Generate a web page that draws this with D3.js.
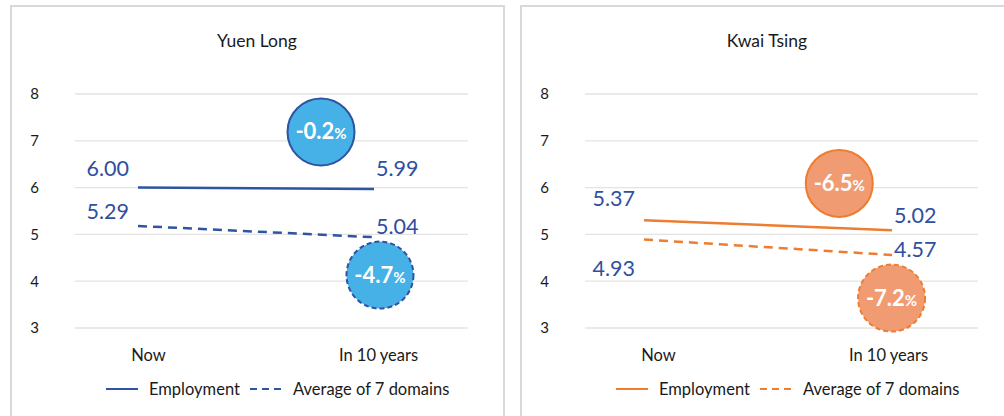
<!DOCTYPE html>
<html>
<head>
<meta charset="UTF-8">
<script src="https://d3js.org/d3.v7.min.js"></script>
<style>
    body { margin: 0; background: #fff; }
    svg { font-family: Lato, "Open Sans", sans-serif; }
</style>
</head>
<body>
<svg id="chart"></svg>
<script>
// DATA
var categories = ["Now", "In 10 years"];
var panelNames = ["Yuen Long", "Kwai Tsing"];
var yTicks = [3, 4, 5, 6, 7, 8];

// plotted values (as drawn) and the printed labels
var ylEmployment = [6.00, 5.97];
var ylAverage    = [5.18, 4.94];
var ylEmpLabels  = ["6.00", "5.99"];
var ylAvgLabels  = ["5.29", "5.04"];
var ylChanges    = ["-0.2", "-4.7"];

var ktEmployment = [5.30, 5.09];
var ktAverage    = [4.89, 4.56];
var ktEmpLabels  = ["5.37", "5.02"];
var ktAvgLabels  = ["4.93", "4.57"];
var ktChanges    = ["-6.5", "-7.2"];

var seriesNames = ["Employment", "Average of 7 domains"];

var panels = [
    { name: panelNames[0], emp: ylEmployment, avg: ylAverage, empLab: ylEmpLabels, avgLab: ylAvgLabels, change: ylChanges,
      line: "#2E54A2", fill: "#45B1E6", badgeStroke: "#2E54A2",
      empDy: [-19, -21], avgDy: [-14, -11],
      badges: [{x: 0.626, v: 7.19}, {x: 0.776, v: 4.13}] },
    { name: panelNames[1], emp: ktEmployment, avg: ktAverage, empLab: ktEmpLabels, avgLab: ktAvgLabels, change: ktChanges,
      line: "#ED7D31", fill: "#F19B72", badgeStroke: "#ED7D31",
      empDy: [-22, -15], avgDy: [29, -5],
      badges: [{x: 0.647, v: 6.09}, {x: 0.78, v: 3.64}] }
];

var width = 1004, height = 416;
var labelColor = "#2F4F9F";

var svg = d3.select("#chart")
    .attr("width", width)
    .attr("height", height);

var panelX = [11, 521];
var plotLeft = 64, plotRight = 457;

var y = d3.scaleLinear().domain([3, 8]).range([328, 94]);

panels.forEach(function(p, i) {
    var g = svg.append("g").attr("transform", `translate(${panelX[i]},0)`);

    g.append("rect")
        .attr("x", 0).attr("y", 6)
        .attr("width", i == 0 ? 493 : 500)
        .attr("height", 430)
        .attr("fill", "none")
        .attr("stroke", "#d9d9d9")
        .attr("stroke-width", 2);

    g.append("text")
        .attr("x", 246).attr("y", 47)
        .attr("text-anchor", "middle")
        .attr("font-size", 17.5)
        .attr("fill", "#1a1a1a")
        .text(p.name);

    // lines sit inside plot, category labels slightly offset
    var xLine = d3.scalePoint().domain(categories).range([plotLeft + (i == 0 ? 63 : 59), plotLeft + (i == 0 ? 299 : 307)]);
    var xCat  = d3.scalePoint().domain(categories).range([plotLeft + 73, plotLeft + 303]);

    // grid
    g.append("g").selectAll("line")
        .data(yTicks)
        .enter().append("line")
        .attr("x1", plotLeft).attr("x2", plotRight)
        .attr("y1", d => y(d)).attr("y2", d => y(d))
        .attr("stroke", "#e3e3e3")
        .attr("stroke-width", 1.3);

    var yAxis = g.append("g")
        .attr("transform", `translate(${plotLeft},0)`)
        .call(d3.axisLeft(y).tickValues(yTicks).tickSize(0).tickPadding(36).tickFormat(d3.format("d")));
    yAxis.select(".domain").remove();
    yAxis.selectAll("text").attr("font-size", 15).attr("fill", "#1a1a1a").attr("font-family", "Lato");

    var xAxis = g.append("g")
        .attr("transform", "translate(0,349)")
        .call(d3.axisBottom(xCat).tickSize(0).tickPadding(0));
    xAxis.select(".domain").remove();
    xAxis.selectAll("text").attr("font-size", 16.5).attr("fill", "#1a1a1a").attr("font-family", "Lato");

    var line = d3.line()
        .x((d, j) => xLine(categories[j]))
        .y(d => y(d));

    g.append("path")
        .attr("d", line(p.emp))
        .attr("fill", "none")
        .attr("stroke", p.line)
        .attr("stroke-width", 2.5);

    g.append("path")
        .attr("d", line(p.avg))
        .attr("fill", "none")
        .attr("stroke", p.line)
        .attr("stroke-width", 2.5)
        .attr("stroke-dasharray", "9,6");

    // value labels
    function addLabels(vals, labs, dys) {
        g.append("g").selectAll("text")
            .data(vals)
            .enter().append("text")
            .attr("x", (d, j) => xLine(categories[j]) + (j == 0 ? -9 : 2))
            .attr("y", (d, j) => y(d) + dys[j] + 7.5)
            .attr("text-anchor", (d, j) => j == 0 ? "end" : "start")
            .attr("font-size", 21.5)
            .attr("fill", labelColor)
            .text((d, j) => labs[j]);
    }
    addLabels(p.emp, p.empLab, p.empDy);
    addLabels(p.avg, p.avgLab, p.avgDy);

    // change badges
    p.badges.forEach(function(b, j) {
        var cx = plotLeft + b.x * (plotRight - plotLeft);
        var cy = y(b.v);
        g.append("circle")
            .attr("cx", cx).attr("cy", cy).attr("r", 33.5)
            .attr("fill", p.fill)
            .attr("stroke", p.badgeStroke)
            .attr("stroke-width", 2)
            .attr("stroke-dasharray", j == 1 ? "5,3" : null);
        var t = g.append("text")
            .attr("x", cx).attr("y", cy + 7.5)
            .attr("text-anchor", "middle")
            .attr("fill", "#fff")
            .attr("font-weight", "bold")
            .attr("font-size", 22);
        t.append("tspan").text(p.change[j]);
        t.append("tspan").attr("font-size", 15).text("%");
    });

    // legend
    var lg = g.append("g").attr("transform", "translate(0,389)");
    lg.append("line").attr("x1", 95).attr("x2", 127)
        .attr("stroke", p.line).attr("stroke-width", 2);
    lg.append("text").attr("x", 138).attr("y", 5.5).attr("font-size", 16.5).attr("fill", "#1a1a1a").text(seriesNames[0]);
    lg.append("line").attr("x1", 239).attr("x2", 271)
        .attr("stroke", p.line).attr("stroke-width", 2).attr("stroke-dasharray", "7,5");
    lg.append("text").attr("x", 282).attr("y", 5.5).attr("font-size", 16.5).attr("fill", "#1a1a1a").text(seriesNames[1]);
});
</script>
</body>
</html>
